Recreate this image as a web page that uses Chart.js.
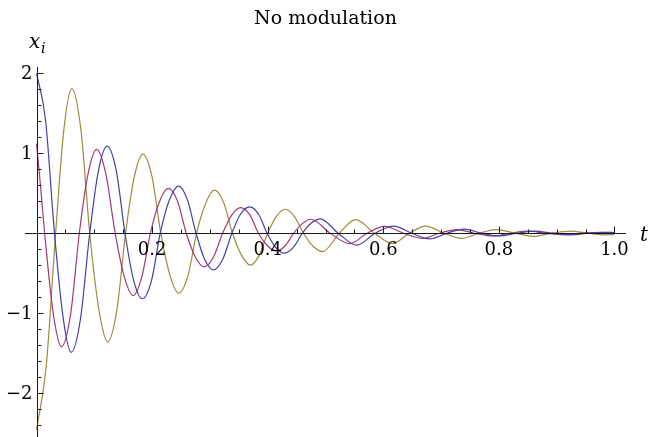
<!DOCTYPE html>
<html>
<head>
<meta charset="utf-8">
<script src="https://cdn.jsdelivr.net/npm/chart.js@4/dist/chart.umd.min.js"></script>
<style>
  html, body { margin: 0; padding: 0; background: #fff; }
  canvas { display: block; }
</style>
</head>
<body>
<canvas id="chart" width="650" height="437"></canvas>
<script>
// damped responses x_i(t), sampled at extrema, zero crossings and between
const tBlue = [0, 0.0155, 0.031, 0.046, 0.060, 0.076, 0.092, 0.107, 0.122, 0.138, 0.153, 0.168, 0.183, 0.199, 0.214, 0.230, 0.246, 0.261, 0.276, 0.291, 0.306, 0.322, 0.338, 0.353, 0.369, 0.384, 0.399, 0.414, 0.428, 0.444, 0.460, 0.476, 0.491, 0.522, 0.554, 0.586, 0.618, 0.649, 0.680, 0.710, 0.740, 0.770, 0.800, 0.831, 0.862, 0.893, 0.925, 0.955, 0.985, 1.0];
const xBlue = [2.00, 1.42, 0, -1.06, -1.49, -1.07, 0, 0.78, 1.09, 0.78, 0, -0.59, -0.82, -0.59, 0, 0.42, 0.59, 0.42, 0, -0.33, -0.46, -0.33, 0, 0.24, 0.33, 0.24, 0, -0.18, -0.25, -0.18, 0, 0.13, 0.18, 0, -0.15, 0, 0.09, 0, -0.07, 0, 0.05, 0, -0.035, 0, 0.025, 0, -0.02, 0, 0.012, 0.008];

const tRed = [0, 0.007, 0.014, 0.029, 0.043, 0.059, 0.074, 0.089, 0.104, 0.120, 0.136, 0.152, 0.167, 0.182, 0.197, 0.213, 0.228, 0.244, 0.259, 0.275, 0.290, 0.306, 0.322, 0.338, 0.353, 0.369, 0.384, 0.400, 0.415, 0.430, 0.445, 0.460, 0.475, 0.508, 0.542, 0.572, 0.602, 0.635, 0.668, 0.697, 0.727, 0.758, 0.790, 0.820, 0.850, 0.881, 0.912, 0.943, 0.975, 1.0];
const xRed = [1.12, 0.58, 0, -1.01, -1.42, -1.01, 0, 0.74, 1.05, 0.74, 0, -0.55, -0.78, -0.55, 0, 0.40, 0.56, 0.40, 0, -0.30, -0.42, -0.30, 0, 0.23, 0.32, 0.23, 0, -0.16, -0.22, -0.16, 0, 0.12, 0.175, 0, -0.13, 0, 0.085, 0, -0.065, 0, 0.045, 0, -0.035, 0, 0.025, 0, -0.018, 0, 0.012, 0.004];

const tGold = [0, 0.0165, 0.033, 0.047, 0.061, 0.077, 0.092, 0.108, 0.123, 0.139, 0.154, 0.169, 0.184, 0.200, 0.215, 0.231, 0.246, 0.262, 0.277, 0.293, 0.308, 0.324, 0.339, 0.355, 0.370, 0.385, 0.400, 0.415, 0.430, 0.446, 0.462, 0.478, 0.495, 0.524, 0.552, 0.585, 0.616, 0.645, 0.673, 0.705, 0.735, 0.766, 0.796, 0.828, 0.860, 0.892, 0.925, 0.955, 0.985, 1.0];
const xGold = [-2.46, -1.68, 0, 1.28, 1.81, 1.28, 0, -0.96, -1.36, -0.96, 0, 0.70, 0.99, 0.70, 0, -0.53, -0.75, -0.53, 0, 0.38, 0.54, 0.38, 0, -0.28, -0.40, -0.28, 0, 0.21, 0.30, 0.21, 0, -0.16, -0.23, 0, 0.17, 0, -0.13, 0, 0.09, 0, -0.065, 0, 0.045, 0, -0.04, 0, 0.025, 0, -0.02, -0.018];

const xTickLabels = ["0.2", "0.4", "0.6", "0.8", "1.0"];
const yTickLabels = ["\u22122", "\u22121", "1", "2"];

const FONT = "'DejaVu Serif', serif";

const toPoints = (ts, xs) => ts.map((t, i) => ({ x: t, y: xs[i] }));

const series = (label, ts, xs, color) => ({
  label,
  data: toPoints(ts, xs),
  borderColor: color,
  borderWidth: 1.2,
  pointRadius: 0,
  fill: false,
  cubicInterpolationMode: "monotone",
});

// Mathematica-style axes crossing at the origin, ticks pointing inward
const axesPlugin = {
  id: "originAxes",
  afterDatasetsDraw(chart) {
    const { ctx, chartArea, scales } = chart;
    const sx = scales.x, sy = scales.y;
    const x0 = Math.round(sx.getPixelForValue(0)) + 0.5;
    const y0 = Math.round(sy.getPixelForValue(0)) + 0.5;

    ctx.save();
    ctx.strokeStyle = "#1a1a1a";
    ctx.lineWidth = 1;
    ctx.beginPath();
    ctx.moveTo(chartArea.left, y0);
    ctx.lineTo(chartArea.right, y0);
    ctx.moveTo(x0, chartArea.top);
    ctx.lineTo(x0, chartArea.bottom);

    for (let k = 1; k <= 20; k++) {
      const px = Math.round(sx.getPixelForValue(k * 0.05)) + 0.5;
      const len = k % 4 === 0 ? 7 : 4;
      ctx.moveTo(px, y0);
      ctx.lineTo(px, y0 - len);
    }
    for (let k = -12; k <= 10; k++) {
      if (k === 0) continue;
      const py = Math.round(sy.getPixelForValue(k * 0.2)) + 0.5;
      const len = k % 5 === 0 ? 6 : 4;
      ctx.moveTo(x0, py);
      ctx.lineTo(x0 + len, py);
    }
    ctx.stroke();

    ctx.fillStyle = "#000";
    ctx.font = "18px " + FONT;
    ctx.textAlign = "center";
    ctx.textBaseline = "top";
    xTickLabels.forEach((lab) => {
      const px = sx.getPixelForValue(parseFloat(lab));
      ctx.fillText(lab, px, y0 + 8);
    });
    ctx.textAlign = "right";
    ctx.textBaseline = "middle";
    yTickLabels.forEach((lab) => {
      const v = parseFloat(lab.replace("\u2212", "-"));
      ctx.fillText(lab, x0 - 5, sy.getPixelForValue(v) + 1);
    });

    // axis labels
    ctx.textAlign = "left";
    ctx.textBaseline = "alphabetic";
    ctx.font = "italic 20px " + FONT;
    ctx.fillText("x", 29, 48);
    ctx.font = "italic 14px " + FONT;
    ctx.fillText("i", 41, 53);
    ctx.font = "italic 20px " + FONT;
    ctx.fillText("t", 640, 241);
    ctx.restore();
  },
};

new Chart(document.getElementById("chart"), {
  type: "line",
  data: {
    datasets: [
      series("x1", tBlue, xBlue, "rgb(64, 64, 170)"),
      series("x2", tRed, xRed, "rgb(165, 55, 120)"),
      series("x3", tGold, xGold, "rgb(160, 138, 60)"),
    ],
  },
  options: {
    responsive: false,
    animation: false,
    devicePixelRatio: 1,
    layout: { padding: { left: 25, right: 24, top: 0, bottom: 0 } },
    scales: {
      x: { type: "linear", min: -0.02, max: 1.02, display: false },
      y: { type: "linear", min: -2.55, max: 2.08, display: false },
    },
    plugins: {
      legend: { display: false },
      tooltip: { enabled: false },
      title: {
        display: true,
        text: "No modulation",
        color: "#000",
        font: { family: FONT, size: 19, weight: "normal", lineHeight: 1.2 },
        padding: { top: 8, bottom: 36.2 },
      },
    },
  },
  plugins: [axesPlugin],
});
</script>
</body>
</html>
